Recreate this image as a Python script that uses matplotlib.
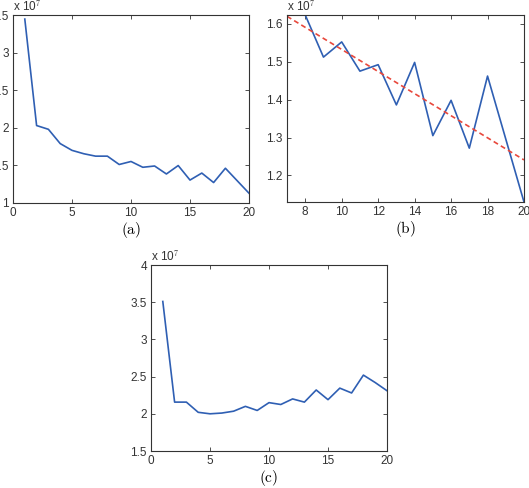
import numpy as np
import matplotlib.pyplot as plt

# values in units of 1e7
x = np.arange(1, 21)
cost_a = [3.446, 2.03, 1.98, 1.79, 1.70, 1.655, 1.623, 1.623, 1.512, 1.552,
          1.475, 1.492, 1.386, 1.498, 1.305, 1.398, 1.272, 1.462, 1.296, 1.13]
cost_c = [3.51, 2.157, 2.157, 2.02, 2.0, 2.01, 2.035, 2.10, 2.045, 2.15,
          2.125, 2.20, 2.157, 2.32, 2.19, 2.345, 2.28, 2.52, 2.42, 2.31]

blue = "#2f5fb3"
red = "#e8483c"

plt.rcParams['font.family'] = ['Liberation Sans', 'DejaVu Sans']
plt.rcParams['font.size'] = 8.5
plt.rcParams['mathtext.fontset'] = 'cm'

fig = plt.figure(figsize=(5.29, 4.88), dpi=100)
W, H = 529, 488


def make_ax(l, t, r, b):
    ax = fig.add_axes([l / W, 1 - b / H, (r - l) / W, (b - t) / H])
    ax.tick_params(direction='in', top=True, right=True, length=3, width=0.6,
                   pad=3, colors='#333333', labelcolor='#333333')
    for s in ax.spines.values():
        s.set_linewidth(0.8)
        s.set_color('#333333')
    ax.text(0.0, 1.01, r'x 10$^7$', transform=ax.transAxes, ha='left',
            va='bottom', fontsize=8.5, color='#333333')
    return ax


def caption(ax, s):
    pos = ax.get_position()
    fig.text((pos.x0 + pos.x1) / 2, pos.y0 - 27 / H, r'$\mathrm{' + s + '}$',
             ha='center', va='center', fontsize=11)


# (a)
ax1 = make_ax(13, 15, 249, 203)
ax1.plot(x, cost_a, color=blue, lw=1.2)
ax1.set_xlim(0, 20)
ax1.set_ylim(1, 3.5)
ax1.set_xticks([0, 5, 10, 15, 20])
ax1.set_yticks([1, 1.5, 2, 2.5, 3, 3.5])
ax1.set_yticklabels(['1', '1.5', '2', '2.5', '3', '3.5'])
caption(ax1, '(a)')

# (b) zoom from iteration 7 with linear fit
xb = x[6:]
yb = np.array(cost_a[6:])
k, c0 = np.polyfit(xb, yb, 1)
ax2 = make_ax(287, 15, 524, 202)
ax2.plot(xb, yb, color=blue, lw=1.2)
ax2.plot(xb, k * xb + c0, color=red, lw=1.2, ls='--', dashes=(3, 2))
ax2.set_xlim(7, 20)
ax2.set_ylim(yb.min(), yb.max())
ax2.set_xticks([8, 10, 12, 14, 16, 18, 20])
ax2.set_yticks([1.2, 1.3, 1.4, 1.5, 1.6])
caption(ax2, '(b)')

# (c)
ax3 = make_ax(151, 265, 387, 451)
ax3.plot(x, cost_c, color=blue, lw=1.2)
ax3.set_xlim(0, 20)
ax3.set_ylim(1.5, 4)
ax3.set_xticks([0, 5, 10, 15, 20])
ax3.set_yticks([1.5, 2, 2.5, 3, 3.5, 4])
ax3.set_yticklabels(['1.5', '2', '2.5', '3', '3.5', '4'])
caption(ax3, '(c)')

fig.savefig('out.png', dpi=100)
